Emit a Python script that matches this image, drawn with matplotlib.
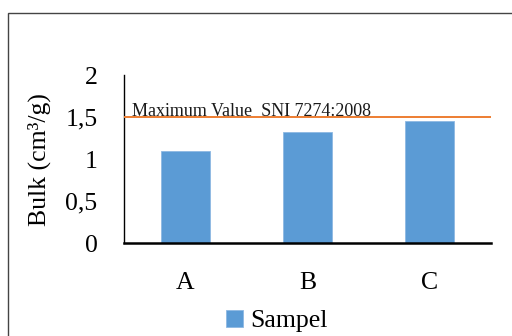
import matplotlib
matplotlib.use("Agg")
import matplotlib.pyplot as plt
from matplotlib.patches import Rectangle

categories = ["A", "B", "C"]
values = [1.10, 1.32, 1.45]
max_value = 1.5
yticks = [0, 0.5, 1, 1.5, 2]
ytick_labels = ["0", "0,5", "1", "1,5", "2"]
series_name = "Sampel"
ref_label = "Maximum Value  SNI 7274:2008"

plt.rcParams['font.family'] = ['Liberation Serif', 'DejaVu Serif']

fig = plt.figure(figsize=(5.12, 3.36), dpi=100)
W, H = 512, 336
ax = fig.add_axes([124 / W, 1 - 243 / H, (491 - 124) / W, (243 - 75) / H])

x = list(range(len(categories)))
ax.bar(x, values, width=0.4, color='#5B9BD5', edgecolor='#8DB8E3', linewidth=0.6,
       label=series_name, zorder=2)
ax.axhline(max_value, color='#ED7D31', linewidth=1.4, zorder=3)
ax.text(-0.435, max_value + 0.015, ref_label, fontsize=13, va='baseline', ha='left',
        color='#1a1a1a', zorder=4)

ax.set_xlim(-0.5, len(categories) - 0.5)
ax.set_ylim(0, 2)
ax.set_yticks(yticks)
ax.set_yticklabels(ytick_labels)
ax.set_xticks(x)
ax.set_xticklabels(categories)
ax.tick_params(axis='y', length=0, pad=19, labelsize=18.5)
ax.tick_params(axis='x', length=0, pad=21, labelsize=18.5)
for s in ['top', 'right']:
    ax.spines[s].set_visible(False)
ax.spines['left'].set_linewidth(1.0)
ax.spines['bottom'].set_linewidth(1.8)
ax.set_ylabel("Bulk (cm³/g)", fontsize=18.5)
ax.yaxis.set_label_coords(51 / W, 1 - 160 / H, transform=fig.transFigure)

fig.legend(loc='center', bbox_to_anchor=(277 / W, 1 - 321 / H), frameon=False,
           fontsize=18.5, handlelength=0.63, handleheight=0.63, handletextpad=0.3,
           borderpad=0, borderaxespad=0)

fig.patches.append(Rectangle((8 / W, -0.1), 1.2, (H - 13) / H + 0.1,
                             transform=fig.transFigure, fill=False,
                             edgecolor='#444444', linewidth=1.0))

fig.savefig("out.png", dpi=100)
